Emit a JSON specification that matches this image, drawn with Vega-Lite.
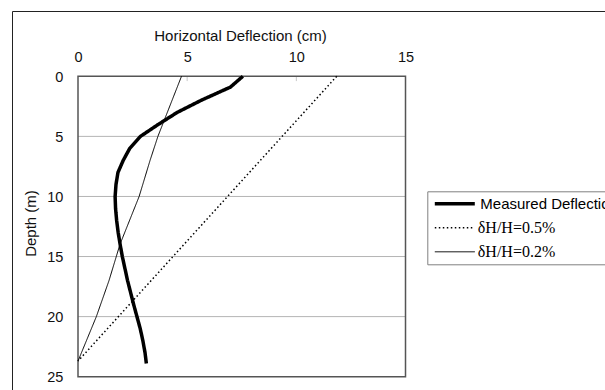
{
  "$schema": "https://vega.github.io/schema/vega-lite/v6.json",
  "width": 593,
  "height": 379,
  "autosize": {"type": "none"},
  "padding": {"left": 12, "top": 11, "right": 0, "bottom": 0},
  "background": "white",
  "config": {
    "view": {"stroke": null},
    "font": "Liberation Sans",
    "axisX": {
      "domain": true, "domainColor": "#222222", "domainWidth": 1,
      "ticks": false, "grid": false,
      "labelPadding": -50.2, "labelBaseline": "alphabetic", "labelFontSize": 14.5, "labelColor": "#111111",
      "labelFlush": false, "labelOverlap": false, "labelBound": false,
      "titleFontSize": 15, "titleFontWeight": "normal", "titleColor": "#111111",
      "titleX": 228, "titleY": 29.2, "titleBaseline": "alphabetic", "titleAlign": "center", "titleAngle": 0
    },
    "axisY": {
      "domain": true, "domainColor": "#222222", "domainWidth": 1,
      "ticks": false, "grid": false,
      "labelPadding": -50.8, "labelBaseline": "middle", "labelAlign": "right", "labelOffset": 1,
      "labelFontSize": 14.5, "labelColor": "#111111",
      "labelFlush": false, "labelOverlap": false, "labelBound": false,
      "titleFontSize": 15, "titleFontWeight": "normal", "titleColor": "#111111",
      "titleX": 18.5, "titleY": 212, "titleAngle": 270, "titleBaseline": "middle", "titleAlign": "center"
    }
  },
  "datasets": {
    "profiles": [
      {"series": "Measured Deflection", "depth": 0, "deflection": 7.55},
      {"series": "Measured Deflection", "depth": 0.9, "deflection": 6.98},
      {"series": "Measured Deflection", "depth": 2, "deflection": 5.64},
      {"series": "Measured Deflection", "depth": 3, "deflection": 4.55},
      {"series": "Measured Deflection", "depth": 4, "deflection": 3.68},
      {"series": "Measured Deflection", "depth": 5, "deflection": 2.86},
      {"series": "Measured Deflection", "depth": 6, "deflection": 2.37},
      {"series": "Measured Deflection", "depth": 7, "deflection": 2.07},
      {"series": "Measured Deflection", "depth": 8, "deflection": 1.83},
      {"series": "Measured Deflection", "depth": 9, "deflection": 1.74},
      {"series": "Measured Deflection", "depth": 10, "deflection": 1.70},
      {"series": "Measured Deflection", "depth": 11, "deflection": 1.72},
      {"series": "Measured Deflection", "depth": 12, "deflection": 1.77},
      {"series": "Measured Deflection", "depth": 13, "deflection": 1.84},
      {"series": "Measured Deflection", "depth": 14, "deflection": 1.93},
      {"series": "Measured Deflection", "depth": 15, "deflection": 2.03},
      {"series": "Measured Deflection", "depth": 16, "deflection": 2.15},
      {"series": "Measured Deflection", "depth": 17, "deflection": 2.27},
      {"series": "Measured Deflection", "depth": 18, "deflection": 2.41},
      {"series": "Measured Deflection", "depth": 19, "deflection": 2.55},
      {"series": "Measured Deflection", "depth": 20, "deflection": 2.70},
      {"series": "Measured Deflection", "depth": 21, "deflection": 2.85},
      {"series": "Measured Deflection", "depth": 22, "deflection": 2.97},
      {"series": "Measured Deflection", "depth": 23, "deflection": 3.07},
      {"series": "Measured Deflection", "depth": 23.9, "deflection": 3.13},
      {"series": "δH/H=0.5%", "depth": 0, "deflection": 11.85},
      {"series": "δH/H=0.5%", "depth": 23.7, "deflection": 0},
      {"series": "δH/H=0.2%", "depth": 0, "deflection": 4.74},
      {"series": "δH/H=0.2%", "depth": 5, "deflection": 3.66},
      {"series": "δH/H=0.2%", "depth": 7, "deflection": 3.3},
      {"series": "δH/H=0.2%", "depth": 10, "deflection": 2.8},
      {"series": "δH/H=0.2%", "depth": 14, "deflection": 1.92},
      {"series": "δH/H=0.2%", "depth": 17, "deflection": 1.42},
      {"series": "δH/H=0.2%", "depth": 20, "deflection": 0.84},
      {"series": "δH/H=0.2%", "depth": 23.7, "deflection": 0}
    ],
    "gridlines": [{"d": 5}, {"d": 10}, {"d": 15}, {"d": 20}],
    "topticks": [{"d": 5}, {"d": 10}]
  },
  "layer": [
    {
      "data": {"name": "gridlines"},
      "mark": {"type": "rule", "color": "#b4b4b4", "strokeWidth": 1},
      "encoding": {
        "y": {"field": "d", "type": "quantitative", "scale": {"domain": [-5.434, 26.107], "reverse": true, "nice": false, "zero": false},
              "axis": {"orient": "left", "values": [0, 5, 10, 15, 20, 25], "title": "Depth (m)"}},
        "x": {"datum": 0, "type": "quantitative", "scale": {"domain": [-3.023, 24.137], "nice": false, "zero": false},
              "axis": {"orient": "top", "values": [0, 5, 10, 15], "title": "Horizontal Deflection (cm)"}},
        "x2": {"datum": 15}
      }
    },
    {
      "data": {"name": "topticks"},
      "mark": {"type": "rule", "color": "#c8c8c8", "strokeWidth": 1},
      "encoding": {
        "x": {"field": "d", "type": "quantitative", "scale": {"domain": [-3.023, 24.137], "nice": false, "zero": false},
              "axis": {"orient": "top", "values": [0, 5, 10, 15], "title": "Horizontal Deflection (cm)"}},
        "y": {"datum": 0, "type": "quantitative", "scale": {"domain": [-5.434, 26.107], "reverse": true, "nice": false, "zero": false},
              "axis": {"orient": "left", "values": [0, 5, 10, 15, 20, 25], "title": "Depth (m)"}},
        "y2": {"datum": 0.4}
      }
    },
    {
      "data": {"values": [{}]},
      "mark": {"type": "rect", "fill": "transparent", "stroke": "#555555", "strokeWidth": 1.5},
      "encoding": {
        "x": {"datum": 0, "type": "quantitative", "scale": {"domain": [-3.023, 24.137], "nice": false, "zero": false},
              "axis": {"orient": "top", "values": [0, 5, 10, 15], "title": "Horizontal Deflection (cm)"}},
        "x2": {"datum": 15},
        "y": {"datum": 0, "type": "quantitative", "scale": {"domain": [-5.434, 26.107], "reverse": true, "nice": false, "zero": false},
              "axis": {"orient": "left", "values": [0, 5, 10, 15, 20, 25], "title": "Depth (m)"}},
        "y2": {"datum": 25}
      }
    },
    {
      "data": {"name": "profiles"},
      "mark": {"type": "line", "color": "black", "strokeCap": "butt", "strokeJoin": "round"},
      "encoding": {
        "x": {"field": "deflection", "type": "quantitative", "scale": {"domain": [-3.023, 24.137], "nice": false, "zero": false},
              "axis": {"orient": "top", "values": [0, 5, 10, 15], "title": "Horizontal Deflection (cm)"}},
        "y": {"field": "depth", "type": "quantitative", "scale": {"domain": [-5.434, 26.107], "reverse": true, "nice": false, "zero": false},
              "axis": {"orient": "left", "values": [0, 5, 10, 15, 20, 25], "title": "Depth (m)"}},
        "order": {"field": "depth", "type": "quantitative"},
        "strokeWidth": {
          "field": "series", "type": "nominal",
          "scale": {"type": "ordinal", "domain": ["Measured Deflection", "δH/H=0.5%", "δH/H=0.2%"], "range": [3.5, 1.5, 1]},
          "legend": {
            "title": null, "orient": "none", "legendX": 415.3, "legendY": 180.3, "direction": "vertical",
            "symbolType": "stroke", "symbolSize": 1600, "symbolStrokeColor": "black", "symbolOffset": 2.5,
            "clipHeight": 19, "rowPadding": 5, "labelOffset": 3.5, "labelFontSize": 15, "labelColor": "#000000", "labelLimit": 400,
            "padding": 3, "strokeColor": "#808080", "fillColor": "white", "cornerRadius": 0,
            "encode": {"labels": {"update": {
              "font": {"signal": "datum.label === 'Measured Deflection' ? 'Liberation Sans' : 'Liberation Serif'"},
              "fontSize": {"signal": "datum.label === 'Measured Deflection' ? 15 : 16"},
              "dx": {"signal": "datum.label === 'Measured Deflection' ? 0 : -2.5"}
            }}}
          }
        },
        "strokeDash": {
          "field": "series", "type": "nominal",
          "scale": {"domain": ["Measured Deflection", "δH/H=0.5%", "δH/H=0.2%"], "range": [[1, 0], [1.5, 2.5], [1, 0]]},
          "legend": {
            "title": null, "orient": "none", "legendX": 415.3, "legendY": 180.3, "direction": "vertical",
            "symbolType": "stroke", "symbolSize": 1600, "symbolStrokeColor": "black", "symbolOffset": 2.5,
            "clipHeight": 19, "rowPadding": 5, "labelOffset": 3.5, "labelFontSize": 15, "labelColor": "#000000", "labelLimit": 400,
            "padding": 3, "strokeColor": "#808080", "fillColor": "white", "cornerRadius": 0,
            "encode": {"labels": {"update": {
              "font": {"signal": "datum.label === 'Measured Deflection' ? 'Liberation Sans' : 'Liberation Serif'"},
              "fontSize": {"signal": "datum.label === 'Measured Deflection' ? 15 : 16"},
              "dx": {"signal": "datum.label === 'Measured Deflection' ? 0 : -2.5"}
            }}}
          }
        }
      }
    }
  ]
}
